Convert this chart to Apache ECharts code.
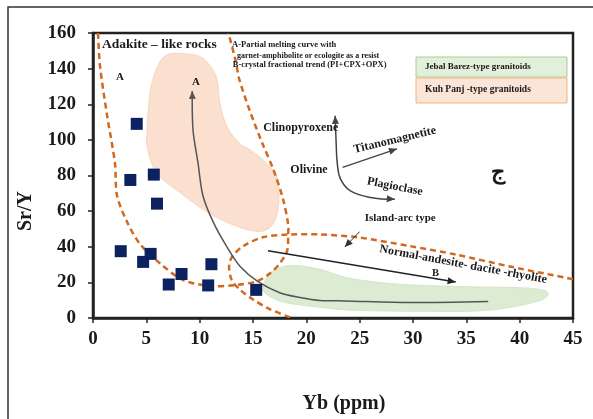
<!DOCTYPE html>
<html>
<head>
<meta charset="utf-8">
<script src="https://cdn.jsdelivr.net/npm/echarts@6/dist/echarts.min.js"></script>
<style>
  html, body { margin: 0; padding: 0; background: #fff; }
  #chart { width: 593px; height: 419px; }
</style>
</head>
<body>
<div id="chart"></div>
<script>
// Sample points: [Yb (ppm), Sr/Y]
const samples = [
  [4.1, 109], [3.5, 77.5], [5.7, 80.5], [6.0, 64.2], [2.6, 37.5], [4.7, 31.5],
  [5.4, 36], [7.1, 18.8], [8.3, 24.7], [10.8, 18.3], [11.1, 30.2], [15.3, 15.8]
];

// Tick values
const xTicks = { min: 0, max: 45, step: 5 };
const yTicks = { min: 0, max: 160, step: 20 };

// Adakite-like rocks field boundary (open U-shaped curve)
const adakiteBoundary = [
  [0.47, 160], [0.66, 141.4], [1.31, 114.1], [2.06, 86.8], [2.25, 68.8], [3.19, 54.0],
  [4.41, 41.5], [6.29, 30.6], [8.44, 21.3], [10.98, 18.0], [13.5, 18.6], [15.4, 20.7],
  [16.6, 25.1], [17.5, 30.6], [18.2, 37.7], [18.3, 46.9], [18.3, 52.4], [17.8, 67.1],
  [16.9, 83.5], [15.9, 97.7], [14.7, 116.3], [13.7, 134.3], [13.4, 143.6], [12.7, 160]
];

// Island-arc (normal andesite-dacite-rhyolite) field boundary
const islandArcBoundary = [
  [45.0, 21.8], [39.1, 28.9], [34.1, 35.5], [29.7, 40.4], [24.8, 45.3], [21.3, 46.9],
  [18.5, 46.9], [15.9, 45.3], [14.1, 40.4], [13.1, 34.9], [12.76, 29.5], [13.0, 21.3],
  [13.8, 15.8], [15.0, 10.4], [16.6, 4.9], [18.5, 0.3]
];

// Kuh Panj-type granitoids envelope
const kuhPanjField = [
  [7.0, 147.9], [8.2, 148.5], [10.0, 146.8], [11.0, 141.4], [11.6, 134.3], [11.9, 120.6],
  [12.6, 107.0], [13.8, 97.7], [14.7, 94.4], [16.3, 86.8], [17.3, 78.1], [17.3, 59.5],
  [16.6, 50.8], [15.4, 48.6], [13.1, 52.4], [10.7, 59.5], [8.16, 70.4], [6.0, 81.3],
  [5.07, 96.1], [5.07, 105.3], [5.2, 117.9], [5.5, 131.6], [6.3, 144.1]
];

// Jebal Barez-type granitoids envelope
const jebalBarezField = [
  [15.9, 15.8], [16.1, 20.7], [16.6, 25.1], [17.5, 28.4], [18.9, 29.5], [21.3, 27.3],
  [23.6, 22.9], [26.5, 20.2], [29.7, 18.6], [35.4, 17.5], [40.5, 16.9], [42.4, 15.3],
  [42.7, 13.1], [41.9, 9.8], [38.6, 5.5], [35.4, 3.8], [30.7, 3.8], [24.1, 4.4],
  [21.3, 6.0], [18.0, 8.7], [16.6, 12.0]
];

// Trend A: partial melting curve (arrow at the first point)
const trendA = [
  [9.3, 127.5], [9.38, 105.3], [9.85, 86.8], [10.3, 68.8], [11.26, 54.0], [12.57, 39.8],
  [13.8, 28.9], [15.4, 20.7], [17.5, 14.2], [19.4, 11.5], [21.3, 9.8], [23.5, 9.6],
  [29.7, 8.7], [37.05, 9.3]
];

// Trend B: crystal fractionation (arrow at the last point)
const trendB = [[16.4, 37.7], [34.0, 20.2]];

// Mineral vectors from olivine
const cpxPlagVector = [
  [22.7, 113.5], [22.8, 97.7], [22.9, 86.8], [23.2, 78.1], [24.1, 71.5], [26.0, 67.7], [28.3, 66.6]
];
const titanomagnetiteVector = [[23.4, 84.6], [28.5, 95.0]];
const islandArcPointer = [[25.0, 48.5], [23.6, 39.8]];

// Annotations: [x, y, text, fontSize, rotationDeg, align]
const annotations = [
  [0.84, 153.4, 'Adakite \u2013 like rocks', 13.5, 0, 'left'],
  [2.53, 135.4, 'A', 11, 0, 'center'],
  [9.66, 132.6, 'A', 11, 0, 'center'],
  [13.04, 153.4, 'A-Partial melting curve with', 8.5, 0, 'left'],
  [13.5, 147.4, 'garnet-amphibolite or ecologite as a resist', 8, 0, 'left'],
  [13.1, 141.9, 'B-crystal fractional trend (PI+CPX+OPX)', 8.5, 0, 'left'],
  [15.95, 107.0, 'Clinopyroxene', 12, 0, 'left'],
  [18.5, 83.0, 'Olivine', 12, 0, 'left'],
  [28.3, 99.9, 'Titanomagnetite', 12, 13.5, 'center'],
  [28.3, 73.7, 'Plagioclase', 12, -11, 'center'],
  [38.0, 81.3, '\u062C', 22, 0, 'center'],
  [28.8, 56.2, 'Island-arc type', 11, 0, 'center'],
  [34.7, 30.0, 'Normal-andesite- dacite -rhyolite', 12, -10.5, 'center'],
  [32.1, 25.1, 'B', 10.5, 0, 'center']
];

const SERIF = '"Liberation Serif", "Times New Roman", serif';
const ORANGE = '#d2691f';

function arrowHead(tip, from, len, half, color) {
  const dx = tip[0] - from[0], dy = tip[1] - from[1];
  const d = Math.sqrt(dx * dx + dy * dy) || 1;
  const ux = dx / d, uy = dy / d;
  const bx = tip[0] - ux * len, by = tip[1] - uy * len;
  return {
    type: 'polygon',
    shape: { points: [tip, [bx - uy * half, by + ux * half], [bx + uy * half, by - ux * half]] },
    style: { fill: color }
  };
}

// Custom series that draws a whole path through the cartesian scales
function pathSeries(points, opts) {
  return {
    type: 'custom',
    coordinateSystem: 'cartesian2d',
    silent: true,
    clip: true,
    z: opts.z || 3,
    data: [[points[0][0], points[0][1]]],
    renderItem: function (params, api) {
      const pts = points.map(p => api.coord(p));
      const children = [];
      if (opts.fill) {
        children.push({
          type: 'polygon',
          shape: { points: pts, smooth: opts.smooth || 0 },
          style: { fill: opts.fill, stroke: opts.stroke || null, lineWidth: opts.lineWidth || 0 }
        });
      } else {
        children.push({
          type: 'polyline',
          shape: { points: pts, smooth: opts.smooth || 0 },
          style: { fill: null, stroke: opts.stroke, lineWidth: opts.lineWidth || 1, lineDash: opts.lineDash || null }
        });
      }
      if (opts.arrowEnd) children.push(arrowHead(pts[pts.length - 1], pts[pts.length - 2], 8, 3.5, opts.stroke));
      if (opts.arrowStart) children.push(arrowHead(pts[0], pts[1], 8, 3.5, opts.stroke));
      return { type: 'group', children: children };
    }
  };
}

const annotationSeries = {
  type: 'custom',
  coordinateSystem: 'cartesian2d',
  silent: true,
  z: 6,
  data: annotations.map(a => [a[0], a[1]]),
  renderItem: function (params, api) {
    const a = annotations[params.dataIndex];
    const p = api.coord([a[0], a[1]]);
    return {
      type: 'text',
      x: p[0], y: p[1],
      rotation: a[4] * Math.PI / 180,
      style: {
        text: a[2],
        fontFamily: SERIF,
        fontWeight: 'bold',
        fontSize: a[3],
        fill: '#1a1a1a',
        align: a[5],
        verticalAlign: 'middle'
      }
    };
  }
};

const chart = echarts.init(document.getElementById('chart'), null, { renderer: 'canvas' });

chart.setOption({
  animation: false,
  backgroundColor: '#ffffff',
  grid: {
    left: 93, top: 33, right: 20, bottom: 93,
    show: true, borderColor: '#222', borderWidth: 2.5, backgroundColor: 'transparent'
  },
  xAxis: {
    type: 'value',
    min: xTicks.min, max: xTicks.max, interval: xTicks.step,
    name: 'Yb (ppm)',
    nameLocation: 'middle',
    nameGap: 76,
    nameTextStyle: { fontFamily: SERIF, fontWeight: 'bold', fontSize: 20, color: '#1a1a1a', padding: [0, 0, 0, 22] },
    axisLine: { show: true, onZero: false, lineStyle: { color: '#222', width: 2.5 } },
    axisTick: { show: true, inside: false, length: 5, lineStyle: { color: '#222', width: 1.5 } },
    axisLabel: { fontFamily: SERIF, fontWeight: 'bold', fontSize: 19, color: '#1a1a1a', margin: 12 },
    splitLine: { show: false }
  },
  yAxis: {
    type: 'value',
    min: yTicks.min, max: yTicks.max, interval: yTicks.step,
    axisLine: { show: true, onZero: false, lineStyle: { color: '#222', width: 2.5 } },
    axisTick: { show: true, inside: false, length: 5, lineStyle: { color: '#222', width: 1.5 } },
    axisLabel: { fontFamily: SERIF, fontWeight: 'bold', fontSize: 19, color: '#1a1a1a', margin: 17 },
    splitLine: { show: false }
  },
  graphic: [
    { type: 'rect', z: -10, silent: true, shape: { x: 8, y: 7, width: 700, height: 600 },
      style: { fill: null, stroke: '#333', lineWidth: 1.5 } },
    { type: 'text', silent: true, x: 26, y: 211, rotation: Math.PI / 2,
      style: { text: 'Sr/Y', fontFamily: SERIF, fontWeight: 'bold', fontSize: 20, fill: '#1a1a1a',
               align: 'center', verticalAlign: 'middle' } },
    { type: 'rect', z: 10, silent: true, shape: { x: 416, y: 57, width: 151, height: 20 },
      style: { fill: '#e2efda', stroke: '#a9d18e', lineWidth: 1 } },
    { type: 'text', z: 11, silent: true, x: 425, y: 67,
      style: { text: 'Jebal Barez-type granitoids', fontFamily: SERIF, fontWeight: 'bold', fontSize: 9,
               fill: '#1a1a1a', align: 'left', verticalAlign: 'middle' } },
    { type: 'rect', z: 10, silent: true, shape: { x: 416, y: 78, width: 151, height: 25 },
      style: { fill: '#fbe5d6', stroke: '#f4b183', lineWidth: 1 } },
    { type: 'text', z: 11, silent: true, x: 425, y: 90,
      style: { text: 'Kuh Panj -type granitoids', fontFamily: SERIF, fontWeight: 'bold', fontSize: 9.5,
               fill: '#1a1a1a', align: 'left', verticalAlign: 'middle' } }
  ],
  series: [
    pathSeries(kuhPanjField, { fill: '#fbdfcf', stroke: '#f7d5c0', lineWidth: 1, smooth: 0.35, z: 1 }),
    pathSeries(jebalBarezField, { fill: '#dcecd2', stroke: '#d3e7c6', lineWidth: 1, smooth: 0.35, z: 1 }),
    pathSeries(adakiteBoundary, { stroke: ORANGE, lineWidth: 2.5, lineDash: [6, 4], smooth: 0.3, z: 2 }),
    pathSeries(islandArcBoundary, { stroke: ORANGE, lineWidth: 2.5, lineDash: [6, 4], smooth: 0.3, z: 2 }),
    pathSeries(trendA, { stroke: '#555', lineWidth: 1.5, smooth: 0.3, arrowStart: true, z: 3 }),
    pathSeries(trendB, { stroke: '#222', lineWidth: 1.5, arrowEnd: true, z: 3 }),
    pathSeries(cpxPlagVector, { stroke: '#444', lineWidth: 1.5, smooth: 0.4, arrowStart: true, arrowEnd: true, z: 3 }),
    pathSeries(titanomagnetiteVector, { stroke: '#444', lineWidth: 1.3, arrowEnd: true, z: 3 }),
    pathSeries(islandArcPointer, { stroke: '#333', lineWidth: 1, arrowEnd: true, z: 3 }),
    {
      type: 'scatter',
      z: 5,
      symbol: 'rect',
      symbolSize: 12,
      itemStyle: { color: '#0b2160', opacity: 1 },
      data: samples
    },
    annotationSeries
  ]
});
</script>
</body>
</html>
